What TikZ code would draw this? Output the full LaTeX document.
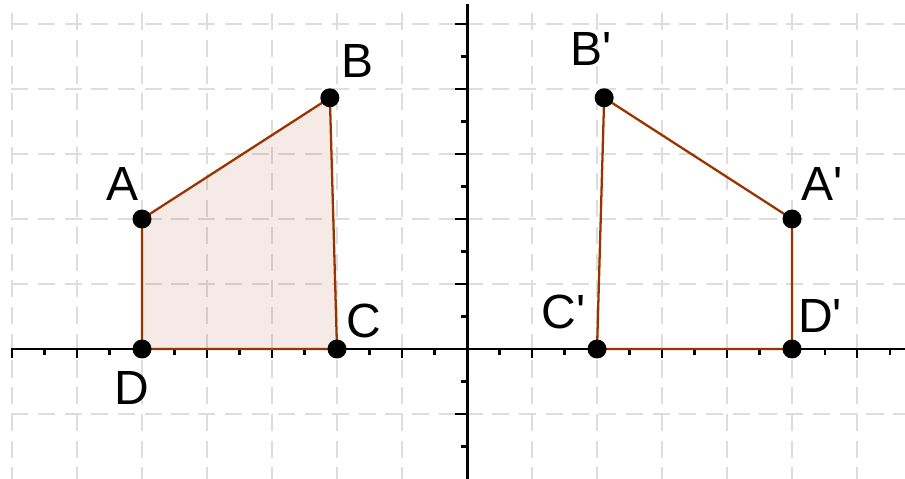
\documentclass[tikz,border=0pt]{standalone}
\usepackage{fontspec}
\newfontfamily\lbl{Liberation Sans}
\definecolor{edgebrown}{RGB}{153,51,0}
\definecolor{gridgray}{RGB}{221,221,221}
\begin{document}
\begin{tikzpicture}[x=1cm,y=1cm,
  gridline/.style={draw=gridgray, line width=1pt, dash pattern=on 7.5pt off 4.2pt},
  axisline/.style={draw=black, line width=1.3pt},
  tickline/.style={draw=black, line width=0.9pt},
  edge/.style={draw=edgebrown, line width=1pt, line join=round},
  polyfill/.style={fill=edgebrown, fill opacity=0.1},
  dot/.style={fill=black},
  lab/.style={font=\lbl\fontsize{21}{21}\selectfont, inner sep=0pt, anchor=center}]
\clip (-7.185,-2.0) rectangle (6.738,5.369);
% grid
\foreach \x in {-7,...,6} \draw[gridline] (\x,5.17) -- (\x,-2.1);
\foreach \y in {-1,1,2,3,4,5} \draw[gridline] (-7.015,\y) -- (6.8,\y);
% points
\coordinate (A) at (-5,2);
\coordinate (B) at (-2.11,3.865);
\coordinate (C) at (-2,0);
\coordinate (D) at (-5,0);
\coordinate (A2) at (5,2);
\coordinate (B2) at (2.11,3.865);
\coordinate (C2) at (2,0);
\coordinate (D2) at (5,0);
% fill
\fill[polyfill] (A) -- (B) -- (C) -- (D) -- cycle;
% axes
\draw[axisline] (-7.015,0) -- (6.8,0);
\draw[axisline] (0,5.31) -- (0,-2.1);
\foreach \x in {-7,-6,-5,-4,-3,-2,-1,1,2,3,4,5,6} \draw[tickline] (\x,0) -- (\x,-0.14);
\foreach \x in {-6.5,-5.5,-4.5,-3.5,-2.5,-1.5,-0.5,0.5,1.5,2.5,3.5,4.5,5.5,6.5} \draw[tickline] (\x,0) -- (\x,-0.09);
\foreach \y in {-1,1,2,3,4,5} \draw[tickline] (0,\y) -- (-0.19,\y);
\foreach \y in {-1.5,-0.5,0.5,1.5,2.5,3.5,4.5} \draw[tickline] (0,\y) -- (-0.09,\y);
% polygons
\draw[edge] (A) -- (B) -- (C) -- (D) -- cycle;
\draw[edge] (A2) -- (B2) -- (C2) -- (D2) -- cycle;
% dots
\foreach \p in {A,B,C,D,A2,B2,C2,D2} \fill[dot] (\p) circle (0.146);
% labels
\node[lab] (lA) at (-5.30,2.54) {A};
\node[lab] (lB) at (-1.69,4.43) {B};
\node[lab] (lC) at (-1.58,0.43) {C};
\node[lab] (lD) at (-5.15,-0.60) {D};
\node[lab] (lA2) at (5.46,2.54) {A\textquotesingle};
\node[lab] (lB2) at (1.91,4.61) {B\textquotesingle};
\node[lab] (lC2) at (1.49,0.57) {C\textquotesingle};
\node[lab] (lD2) at (5.43,0.51) {D\textquotesingle};
\end{tikzpicture}
\end{document}
